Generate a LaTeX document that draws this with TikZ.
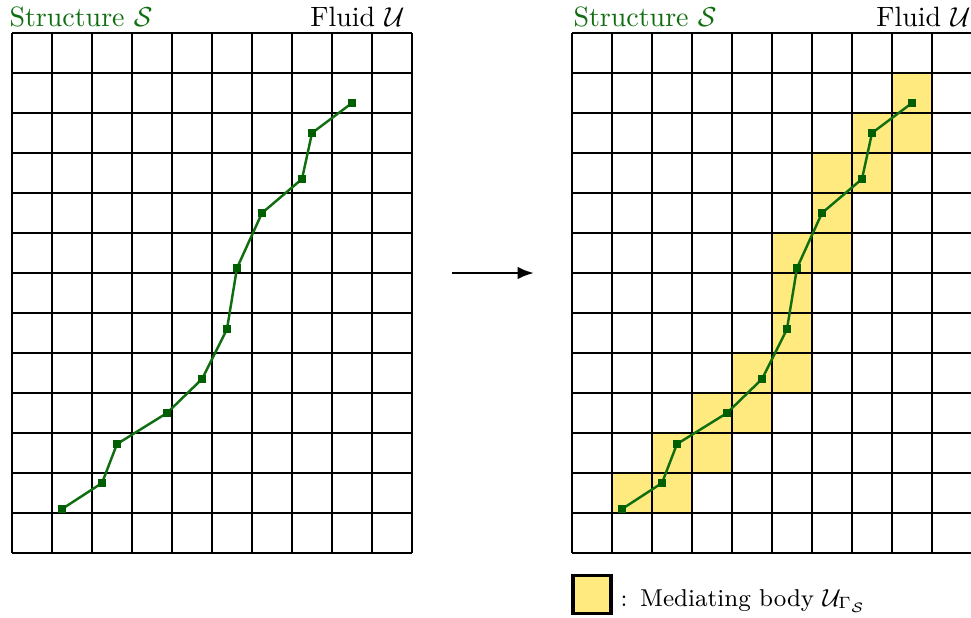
\documentclass[tikz,border=0pt]{standalone}
\usetikzlibrary{arrows.meta}
\definecolor{strgreen}{RGB}{16,110,16}
\definecolor{markgreen}{RGB}{0,95,0}
\definecolor{mediyellow}{RGB}{255,234,128}
\tikzset{
  gridline/.style={line width=0.6pt, black},
  structline/.style={line width=0.9pt, strgreen},
  marker/.style={rectangle, fill=markgreen, inner sep=0pt, minimum size=2.9pt},
  medcell/.style={fill=mediyellow, draw=none},
  titletext/.style={inner sep=0pt, font=\fontsize{10.2}{12}\selectfont},
  legendtext/.style={inner sep=0pt, font=\fontsize{8.9}{10}\selectfont},
  bigarrow/.style={line width=0.95pt, -{Latex[length=6pt,width=4.6pt]}}
}
\begin{document}
\begin{tikzpicture}[x=0.365pt, y=-0.365pt]
\useasboundingbox (0,0) rectangle (971,617);

% ---------- yellow cells on the right grid ----------
\foreach \c/\r in {8/1,8/2,7/2,7/3,6/3,6/4,6/5,5/5,5/6,5/7,5/8,4/8,4/9,3/9,3/10,2/10,2/11,1/11}
  \fill[medcell] (572+40*\c,33+40*\r) rectangle (612+40*\c,73+40*\r);

% ---------- grids ----------
\foreach \ox in {12,572}{
  \foreach \i in {0,...,10}
    \draw[gridline] (\ox+40*\i,33) -- (\ox+40*\i,553);
  \foreach \j in {0,...,13}
    \draw[gridline] (\ox,33+40*\j) -- (\ox+400,33+40*\j);
}

% ---------- titles ----------
\node[titletext, anchor=base west, text=strgreen] (sl) at (9,26) {Structure $\mathcal{S}$};
\node[titletext, anchor=base east] (fl) at (405,26) {Fluid $\mathcal{U}$};
\node[titletext, anchor=base west, text=strgreen] (sr) at (573,26) {Structure $\mathcal{S}$};
\node[titletext, anchor=base east] (fr) at (971,26) {Fluid $\mathcal{U}$};

% ---------- structure polylines ----------
\foreach \ox/\g in {0/L,560/R}{
  \coordinate (\g1) at (62+\ox,509);
  \coordinate (\g2) at (102+\ox,483);
  \coordinate (\g3) at (117+\ox,444);
  \coordinate (\g4) at (167+\ox,413);
  \coordinate (\g5) at (202+\ox,379);
  \coordinate (\g6) at (227+\ox,329);
  \coordinate (\g7) at (237+\ox,268);
  \coordinate (\g8) at (262+\ox,213);
  \coordinate (\g9) at (302+\ox,179);
  \coordinate (\g10) at (312+\ox,133);
  \coordinate (\g11) at (352+\ox,103);
  \draw[structline, line join=round] (\g1) -- (\g2) -- (\g3) -- (\g4) -- (\g5) -- (\g6) -- (\g7) -- (\g8) -- (\g9) -- (\g10) -- (\g11);
  \foreach \k in {1,...,11}
    \node[marker] (m\g\k) at (\g\k) {};
}

% ---------- arrow ----------
\coordinate (arrS) at (452,273);
\coordinate (arrE) at (534,273);
\draw[bigarrow] (arrS) -- (arrE);

% ---------- legend ----------
\node[draw=black, line width=1.1pt, fill=mediyellow, minimum size=38*0.365pt, inner sep=0pt, anchor=center] (leg) at (592,594) {};
\node[legendtext, anchor=base west] (legtxt) at (620,606) {:\hspace{4.6pt}Mediating body $\mathcal{U}_{\Gamma_{\mathcal{S}}}$};
\end{tikzpicture}
\end{document}
